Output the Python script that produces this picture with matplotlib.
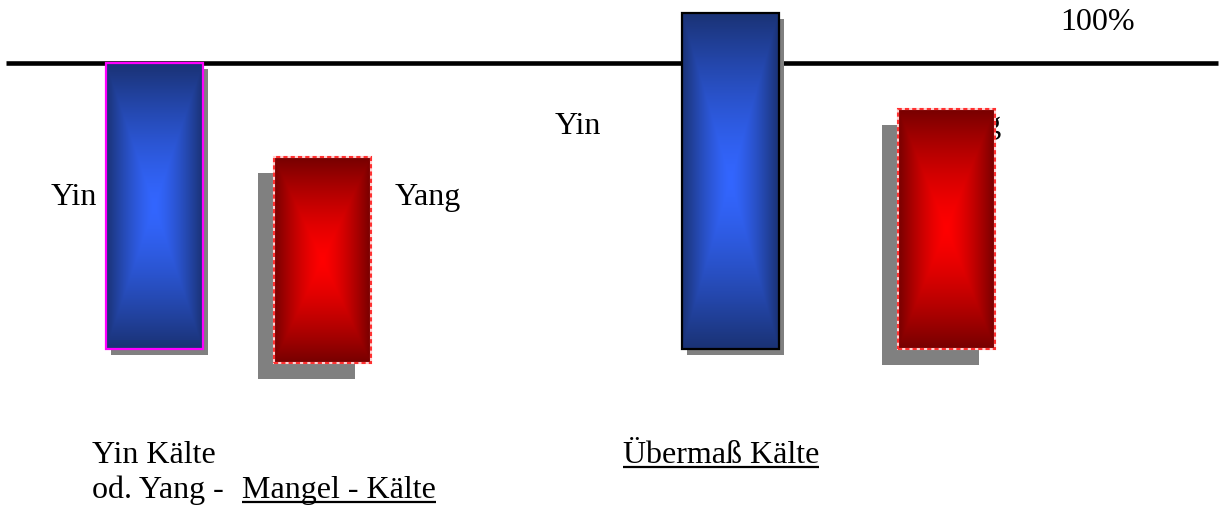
import numpy as np
import matplotlib
matplotlib.use("Agg")
import matplotlib.pyplot as plt
from matplotlib.transforms import ScaledTranslation
from matplotlib.colors import to_rgb

# ---- data (percent of the 100% reference line) ----
bar_labels = ["Yin", "Yang", "Yin", "Yang"]
bar_bottoms = [0, -5, 0, 0]
bar_tops = [100, 67, 117.5, 84]
bar_kinds = ["yin", "yang", "yin", "yang"]
group_titles = ["Yin Kälte", "Übermaß Kälte"]
reference_label = "100%"

# ---- layout (pixels) ----
W, H = 1224, 508
PX_PER_PCT = 2.86
ZERO_Y = 349


def py(ypix):
    return (ZERO_Y - ypix) / PX_PER_PCT


bar_centers = [154, 322, 730, 946]
bar_width = 97
edge_colors = ["#ff00ff", None, "black", None]
shadow_offsets = [(5, 6), (-16, 16), (5, 6), (-16, 16)]
grad = {"yin": (to_rgb("#1a3274"), to_rgb("#3366ff")),
        "yang": (to_rgb("#760000"), to_rgb("#ff0000"))}

fig = plt.figure(figsize=(W / 100, H / 100), dpi=100)
ax = fig.add_axes([0, 0, 1, 1])
ax.set_xlim(0, W)
ax.set_ylim(py(H), py(0))
ax.axis("off")

# reference line
ax.plot([6, 1218], [100, 100], color="black", lw=3.3, solid_capstyle="butt", zorder=1)

FONT = dict(family="Liberation Serif", fontsize=23, color="black")

# hidden label behind the last red bar
ax.text(936, py(133), "Yang", ha="left", va="baseline", zorder=2, **FONT)

n = 240
u = np.linspace(-1, 1, n)
U, V = np.meshgrid(u, u)
T = np.maximum(np.abs(U), np.abs(V)) ** 1.4

for i in range(len(bar_tops)):
    x0 = bar_centers[i] - bar_width / 2
    bottom, top = bar_bottoms[i], bar_tops[i]
    dx, dy = shadow_offsets[i]
    sh = ax.transData + ScaledTranslation(dx / 100, -dy / 100, fig.dpi_scale_trans)
    ax.bar(bar_centers[i], top - bottom, bottom=bottom, width=bar_width,
           color="#808080", transform=sh, zorder=3)
    edge, center = grad[bar_kinds[i]]
    img = np.zeros((n, n, 3))
    for c in range(3):
        img[..., c] = center[c] + (edge[c] - center[c]) * T
    ax.imshow(img, extent=(x0, x0 + bar_width, bottom, top), aspect="auto",
              interpolation="bilinear", zorder=4)
    if edge_colors[i] is not None:
        ax.bar(bar_centers[i], top - bottom, bottom=bottom, width=bar_width,
               fill=False, edgecolor=edge_colors[i], linewidth=1.6, zorder=5)
    else:
        ax.bar(bar_centers[i], top - bottom, bottom=bottom, width=bar_width,
               fill=False, edgecolor="#ffd0d0", linewidth=1.5, zorder=5)
        ax.bar(bar_centers[i], top - bottom, bottom=bottom, width=bar_width,
               fill=False, edgecolor="#ff3030", linewidth=1.5, linestyle=(0, (2, 1.5)), zorder=6)

ax.set_xlim(0, W)
ax.set_ylim(py(H), py(0))

# side labels
ax.text(51, py(205), bar_labels[0], ha="left", va="baseline", zorder=7, **FONT)
ax.text(395, py(205), bar_labels[1], ha="left", va="baseline", zorder=7, **FONT)
ax.text(555, py(134), bar_labels[2], ha="left", va="baseline", zorder=7, **FONT)
ax.text(1060, py(30), reference_label, ha="left", va="baseline", zorder=7, **FONT)

# bottom captions
ax.text(92, py(463), group_titles[0], ha="left", va="baseline", **FONT)
ax.text(92, py(498), "od. Yang -", ha="left", va="baseline", **FONT)
t_mangel = ax.text(242, py(498), "Mangel - Kälte", ha="left", va="baseline", **FONT)
t_uber = ax.text(623, py(463), group_titles[1], ha="left", va="baseline", **FONT)

fig.canvas.draw()
r = fig.canvas.get_renderer()
inv = ax.transData.inverted()
for t, base in [(t_mangel, 502), (t_uber, 467)]:
    bb = t.get_window_extent(r)
    xa = inv.transform((bb.x0, 0))[0]
    xb = inv.transform((bb.x1, 0))[0]
    ax.plot([xa, xb], [py(base), py(base)], color="black", lw=1.6, solid_capstyle="butt")

fig.savefig("out.png", dpi=100)
